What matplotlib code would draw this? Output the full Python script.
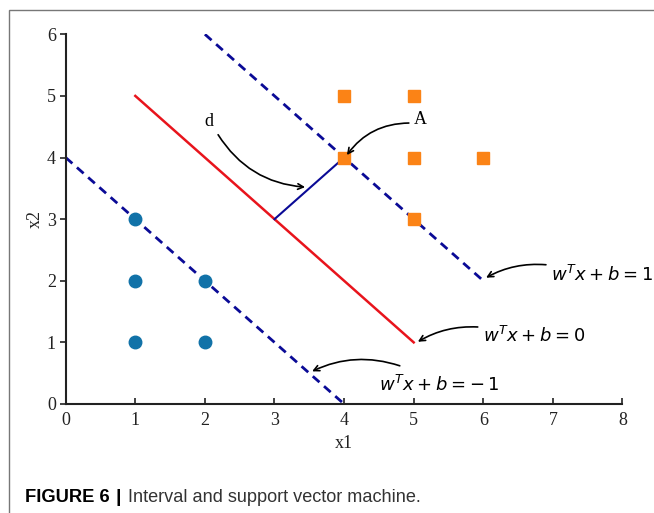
import matplotlib
matplotlib.use("Agg")
import matplotlib.pyplot as plt
from matplotlib.patches import Rectangle

# class samples
neg_x = [1, 1, 1, 2, 2]
neg_y = [3, 2, 1, 2, 1]
pos_x = [4, 5, 4, 5, 6, 5]
pos_y = [5, 5, 4, 4, 4, 3]

# hyperplanes: (x0, y0) -> (x1, y1)
upper_margin = ([2, 6], [6, 2])
hyperplane = ([1, 5], [5, 1])
lower_margin = ([0, 4], [4, 0])
gap_seg = ([3, 4], [3, 4])

x_ticks = [0, 1, 2, 3, 4, 5, 6, 7, 8]
y_ticks = [0, 1, 2, 3, 4, 5, 6]

NAVY = "#0a0a96"
RED = "#e8141c"
BLUE = "#1172a8"
ORANGE = "#fb8316"
INK = "#222222"

fig = plt.figure(figsize=(6.54, 5.13), dpi=100)
ax = fig.add_axes([65.7 / 654, 1 - 404 / 513, (622.5 - 65.7) / 654, (404 - 34.3) / 513])

ax.plot(*upper_margin, color=NAVY, ls=(0, (3.2, 2.2)), lw=2.0)
ax.plot(*lower_margin, color=NAVY, ls=(0, (3.2, 2.2)), lw=2.0)
ax.plot(*hyperplane, color=RED, lw=1.8)
ax.plot(*gap_seg, color=NAVY, lw=1.5)

ax.plot(neg_x, neg_y, "o", color=BLUE, ms=9, mec=BLUE, zorder=3)
ax.plot(pos_x, pos_y, "s", color=ORANGE, ms=8.5, mec=ORANGE, zorder=3)

arrow = dict(arrowstyle="->", color="black", lw=1.2, shrinkA=0, shrinkB=0)
ax.text(2.06, 4.58, "d", fontsize=13, family="Liberation Serif",
        ha="center", va="center")
ax.annotate("", xy=(3.44, 3.52), xytext=(2.19, 4.37),
            arrowprops=dict(arrow, connectionstyle="arc3,rad=0.25"))
ax.text(5.09, 4.61, "A", fontsize=13, family="Liberation Serif",
        ha="center", va="center")
ax.annotate("", xy=(4.04, 4.04), xytext=(4.93, 4.56),
            arrowprops=dict(arrow, connectionstyle="arc3,rad=0.25"))

ax.text(6.97, 2.09, r"$w^Tx + b = 1$", fontsize=13, ha="left", va="center")
ax.annotate("", xy=(6.04, 2.05), xytext=(6.9, 2.26),
            arrowprops=dict(arrow, connectionstyle="arc3,rad=0.15"))
ax.text(6.0, 1.1, r"$w^Tx + b = 0$", fontsize=13, ha="left", va="center")
ax.annotate("", xy=(5.06, 1.01), xytext=(5.92, 1.25),
            arrowprops=dict(arrow, connectionstyle="arc3,rad=0.15"))
ax.text(4.5, 0.31, r"$w^Tx + b = -\,1$", fontsize=13, ha="left", va="center")
ax.annotate("", xy=(3.54, 0.53), xytext=(4.8, 0.62),
            arrowprops=dict(arrow, connectionstyle="arc3,rad=0.2"))

ax.set_xlim(0, 8)
ax.set_ylim(0, 6)
ax.set_xticks(x_ticks)
ax.set_yticks(y_ticks)
for sp in ("top", "right"):
    ax.spines[sp].set_visible(False)
for sp in ("left", "bottom"):
    ax.spines[sp].set_color(INK)
    ax.spines[sp].set_linewidth(1.5)
ax.tick_params(axis="x", direction="in", length=4, width=1.2, color=INK, pad=6)
ax.tick_params(axis="y", direction="out", length=4, width=1.2, color=INK, pad=3)
for lab in ax.get_xticklabels() + ax.get_yticklabels():
    lab.set_family("Liberation Serif")
    lab.set_fontsize(13)
    lab.set_color(INK)
ax.set_xlabel("x1", family="Liberation Serif", fontsize=13, color=INK, labelpad=4)
ax.set_ylabel("x2", family="Liberation Serif", fontsize=13, color=INK, labelpad=2)

fig.add_artist(Rectangle((9 / 654, -0.05), 1.1, 1 - 10 / 513 + 0.05,
                         transform=fig.transFigure, fill=False,
                         ec="#777777", lw=1.0))
cap_y = 1 - 498 / 513
fig.text(25 / 654, cap_y, "FIGURE 6", family="Liberation Sans",
         fontweight="bold", fontsize=13.2, va="center", ha="left")
fig.text(118 / 654, cap_y, "|", family="Liberation Sans",
         fontweight="bold", fontsize=14, va="center", ha="center")
fig.text(128 / 654, cap_y, "Interval and support vector machine.",
         family="Liberation Sans", fontsize=13.1, va="center", ha="left",
         color="#333333")

fig.savefig("out.png", dpi=100)
